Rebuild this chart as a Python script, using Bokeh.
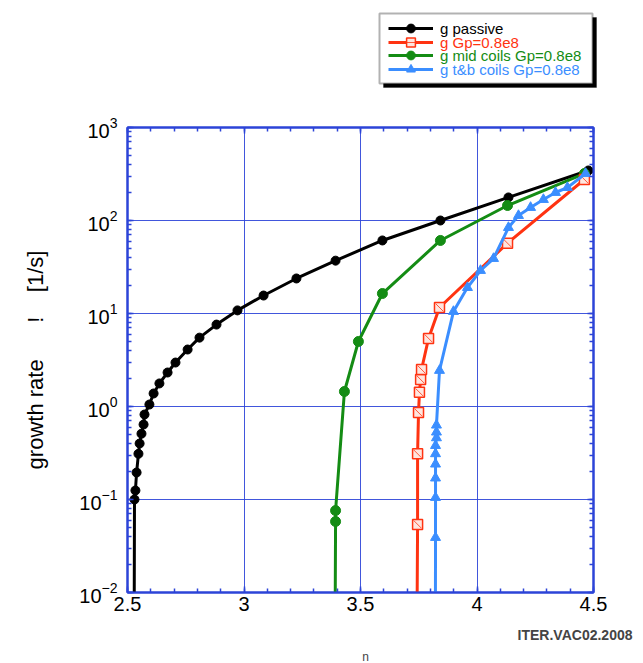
import numpy as np
from bokeh.plotting import figure
from bokeh.layouts import column
from bokeh.models import (LinearAxis, LogAxis, Legend, LegendItem, Label,
                          BoxAnnotation, FixedTicker, LogTicker)
from bokeh.embed import file_html
from bokeh.resources import INLINE

# ---------------- data ----------------
passive_n = [2.530, 2.534, 2.539, 2.547, 2.552, 2.560, 2.569, 2.573, 2.594, 2.612,
             2.637, 2.672, 2.706, 2.758, 2.809, 2.882, 2.972, 3.084, 3.225, 3.393,
             3.594, 3.843, 4.135, 4.478]
passive_g = [0.10, 0.125, 0.195, 0.31, 0.40, 0.51, 0.64, 0.82, 1.05, 1.38,
             1.77, 2.32, 2.97, 4.1, 5.5, 7.6, 10.8, 15.6, 23.8, 37,
             61, 100, 177, 345]
passive_tail_n = [2.528]
passive_tail_g = [0.001]

gp_n = [3.745, 3.745, 3.749, 3.753, 3.758, 3.762, 3.792, 3.839, 4.131, 4.461]
gp_g = [0.054, 0.31, 0.86, 1.42, 1.95, 2.5, 5.4, 11.6, 57, 276]
gp_tail_n = [3.741]
gp_tail_g = [0.001]

mid_n = [3.393, 3.393, 3.431, 3.491, 3.594, 3.843, 4.131, 4.461]
mid_g = [0.058, 0.076, 1.45, 5.0, 16.4, 61, 145, 320]
mid_tail_n = [3.390]
mid_tail_g = [0.001]

tb_n = [3.822, 3.822, 3.822, 3.822, 3.822, 3.822, 3.826, 3.826, 3.826, 3.839,
        3.899, 3.959, 4.015, 4.071, 4.135, 4.178, 4.230, 4.285, 4.337, 4.388, 4.466]
tb_g = [0.039, 0.105, 0.17, 0.24, 0.31, 0.38, 0.46, 0.53, 0.63, 2.44,
        10.5, 19, 29, 39, 84, 113, 138, 168, 200, 226, 320]
tb_tail_n = [3.821]
tb_tail_g = [0.001]

x_ticks = [2.5, 3, 3.5, 4, 4.5]
x_tick_labels = ["2.5", "3", "3.5", "4", "4.5"]
x_minor = [round(2.5 + 0.1 * i, 2) for i in range(21)]

legend_labels = ["g passive", "g Gp=0.8e8", "g mid coils Gp=0.8e8", "g t&b coils Gp=0.8e8"]
y_label = "growth rate" + "\u00a0" * 6 + "!" + "\u00a0" * 4 + "[1/s]"
x_label = "n"
stamp = "ITER.VAC02.2008"

# ---------------- styles ----------------
AX = "#2c44d8"
BLACK = "#000000"
RED = "#ff3311"
GREEN = "#148c14"
BLUE = "#3b8eff"
FONT = "Liberation Sans"
W = 643
LW = 3

STYLE = {
    "passive": dict(line=dict(color=BLACK, line_width=LW),
                    marks=[dict(marker="circle", size=9, color=BLACK)]),
    "gp": dict(line=dict(color=RED, line_width=LW),
               marks=[dict(marker="square", size=10, fill_color="#ffe6df",
                           line_color=RED, line_width=1.5),
                      dict(marker="dash", size=11, angle=-np.pi / 4,
                           line_color=RED, line_width=0.8)]),
    "mid": dict(line=dict(color=GREEN, line_width=LW),
                marks=[dict(marker="circle", size=10, color=GREEN)]),
    "tb": dict(line=dict(color=BLUE, line_width=LW),
               marks=[dict(marker="triangle", size=10, color=BLUE)]),
}
SERIES = {
    "passive": (passive_n, passive_g, passive_tail_n, passive_tail_g),
    "gp": (gp_n, gp_g, gp_tail_n, gp_tail_g),
    "mid": (mid_n, mid_g, mid_tail_n, mid_tail_g),
    "tb": (tb_n, tb_g, tb_tail_n, tb_tail_g),
}


def draw(fig, key):
    n, g, tn, tg = SERIES[key]
    rs = [fig.line(tn + n, tg + g, **STYLE[key]["line"])]
    for m in STYLE[key]["marks"]:
        rs.append(fig.scatter(n, g, **m))
    return rs


def bare_fig(h):
    f = figure(width=W, height=h, x_range=(0, 1), y_range=(0, 1),
               x_axis_type=None, y_axis_type=None, title=None,
               output_backend="svg", toolbar_location=None, min_border=0,
               frame_align=False)
    f.outline_line_color = None
    return f


# ---------------- main plot ----------------
p = figure(width=W, height=522, y_axis_type="log",
           x_range=(2.5, 4.5), y_range=(0.01, 1000), title=None,
           output_backend="svg", toolbar_location=None, frame_align=False,
           min_border_left=127, min_border_right=50,
           min_border_top=27, min_border_bottom=30)

p.outline_line_color = AX
p.outline_line_width = 2

bottom_ax = p.below[0]
left_ax = p.left[0]

xt = FixedTicker(ticks=x_ticks, minor_ticks=x_minor)
bottom_ax.ticker = xt
bottom_ax.major_label_overrides = dict(zip(x_ticks, x_tick_labels))
left_ax.ticker = LogTicker(num_minor_ticks=10)

top_ax = LinearAxis(ticker=FixedTicker(ticks=x_ticks, minor_ticks=x_minor),
                    major_label_text_alpha=0, major_label_text_font_size="8px")
right_ax = LogAxis(ticker=LogTicker(num_minor_ticks=10),
                   major_label_text_alpha=0, major_label_text_font_size="8px")
p.add_layout(top_ax, "above")
p.add_layout(right_ax, "right")

for ax in [bottom_ax, left_ax, top_ax, right_ax]:
    ax.axis_line_color = AX
    ax.axis_line_width = 2
    ax.major_tick_line_color = AX
    ax.minor_tick_line_color = AX
    ax.major_tick_line_width = 1.5
    ax.minor_tick_line_width = 1.5
    ax.major_tick_in = 6
    ax.major_tick_out = 0
    ax.minor_tick_in = 4
    ax.minor_tick_out = 0
    ax.major_label_text_font = FONT
    ax.major_label_text_font_style = "normal"
    ax.major_label_text_color = "#000000"

bottom_ax.major_label_text_font_size = "20px"
bottom_ax.major_label_standoff = 4
left_ax.major_label_text_font_size = "20px"
left_ax.major_label_standoff = 10
left_ax.axis_label = y_label
left_ax.axis_label_text_font = FONT
left_ax.axis_label_text_font_size = "22px"
left_ax.axis_label_text_font_style = "normal"
left_ax.axis_label_text_color = "#000000"
left_ax.axis_label_standoff = 28

p.grid.grid_line_color = AX
p.grid.grid_line_width = 1
p.grid.grid_line_alpha = 0.9
p.xgrid.ticker = xt

for key in ["passive", "mid", "gp", "tb"]:
    draw(p, key)

# ---------------- legend strip (above the plot) ----------------
# The series are drawn again here only to give the legend its glyphs;
# they fall outside this strip's (0..1) ranges and so stay hidden.
top = bare_fig(100)
top.add_layout(BoxAnnotation(left=383, right=596, top=83, bottom=13,
                             left_units="screen", right_units="screen",
                             top_units="screen", bottom_units="screen",
                             fill_color="black", fill_alpha=1, line_color="black"))
top.add_layout(BoxAnnotation(left=379, right=592, top=87, bottom=17,
                             left_units="screen", right_units="screen",
                             top_units="screen", bottom_units="screen",
                             fill_color="white", fill_alpha=1, line_color="black",
                             line_width=2))

rows = [("passive", legend_labels[0], BLACK, 61),
        ("gp", legend_labels[1], RED, 47),
        ("mid", legend_labels[2], GREEN, 34),
        ("tb", legend_labels[3], BLUE, 20)]
for key, lab, col, yy in rows:
    rends = draw(top, key)
    lg = Legend(items=[LegendItem(label=lab, renderers=rends)],
                location=(388, yy), orientation="vertical",
                border_line_alpha=0, background_fill_alpha=0,
                padding=0, margin=0, spacing=0,
                glyph_width=45, glyph_height=22, label_height=14,
                label_standoff=7, label_text_font=FONT,
                label_text_font_size="15px", label_text_color=col)
    top.add_layout(lg, "center")

# ---------------- bottom strip (stamp + x label) ----------------
bot = bare_fig(41)
bot.add_layout(Label(x=632, y=29, x_units="screen", y_units="screen", text=stamp,
                     text_align="right", text_baseline="middle",
                     text_font=FONT, text_font_size="14px", text_font_style="bold"))
bot.add_layout(Label(x=365, y=7, x_units="screen", y_units="screen", text=x_label,
                     text_align="center", text_baseline="middle",
                     text_font=FONT, text_font_size="12px"))

layout = column(top, p, bot, spacing=0)
open("out.html", "w").write(file_html(layout, INLINE))
